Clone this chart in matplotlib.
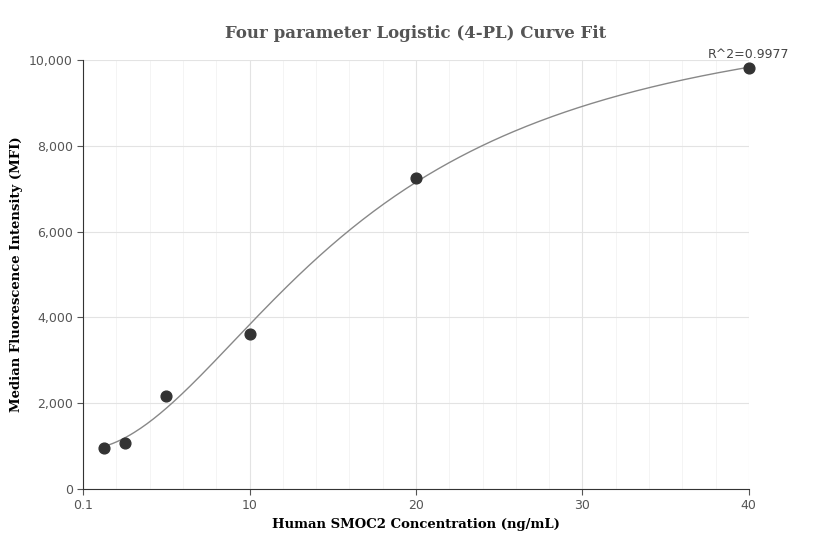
import matplotlib.pyplot as plt
import numpy as np

concentration = [1.25, 2.5, 5, 10, 20, 40]
mfi = [950, 1080, 2170, 3620, 7250, 9800]
r2_label = "R^2=0.9977"
x_ticks = [0, 10, 20, 30, 40]
x_tick_labels = ["0.1", "10", "20", "30", "40"]
y_ticks = [0, 2000, 4000, 6000, 8000, 10000]

x = np.array(concentration, float)
y = np.array(mfi, float)

# crude 4PL fit: grid over c and b, linear least squares for a, d
best = None
for c in np.linspace(5, 60, 221):
    for b in np.linspace(0.8, 4, 161):
        g = 1.0 / (1.0 + (x / c) ** b)
        A = np.vstack([g, 1 - g]).T
        coef, *_ = np.linalg.lstsq(A, y, rcond=None)
        err = np.sum((A @ coef - y) ** 2)
        if best is None or err < best[0]:
            best = (err, c, b, coef)
_, c, b, (a, d) = best
xf = np.linspace(1.25, 40, 300)
yf = d + (a - d) / (1 + (xf / c) ** b)

fig, ax = plt.subplots(figsize=(8.32, 5.6), dpi=100)
fig.subplots_adjust(left=0.1, right=0.9, top=0.893, bottom=0.127)

ax.plot(xf, yf, color="#888888", lw=1)
ax.scatter(x, y, s=60, color="#333333", zorder=3, clip_on=False)
ax.text(40, 9980, r2_label, ha="center", va="bottom", fontsize=9, color="#444444")

ax.set_xlim(0, 40)
ax.set_ylim(0, 10000)
ax.set_xticks(x_ticks)
ax.set_xticklabels(x_tick_labels)
ax.set_yticks(y_ticks)
ax.set_yticklabels([f"{v:,}" for v in y_ticks])
ax.set_xticks(np.arange(0, 40.1, 2), minor=True)
ax.grid(True, which="major", color="#e3e3e3", lw=0.8)
ax.grid(True, which="minor", axis="x", color="#f3f3f3", lw=0.6)
ax.set_axisbelow(True)
for s in ["top", "right"]:
    ax.spines[s].set_visible(False)
for s in ["left", "bottom"]:
    ax.spines[s].set_color("#333333")
ax.tick_params(which="both", colors="#555555", labelsize=9, length=4)
ax.tick_params(which="minor", length=0)

ax.set_title("Four parameter Logistic (4-PL) Curve Fit", fontfamily="DejaVu Serif",
             fontweight="bold", fontsize=12, color="#555555", pad=16)
ax.set_xlabel("Human SMOC2 Concentration (ng/mL)", fontfamily="DejaVu Serif",
              fontweight="bold", fontsize=9.5)
ax.set_ylabel("Median Fluorescence Intensity (MFI)", fontfamily="DejaVu Serif",
              fontweight="bold", fontsize=9.5)
fig.savefig("out.png")
